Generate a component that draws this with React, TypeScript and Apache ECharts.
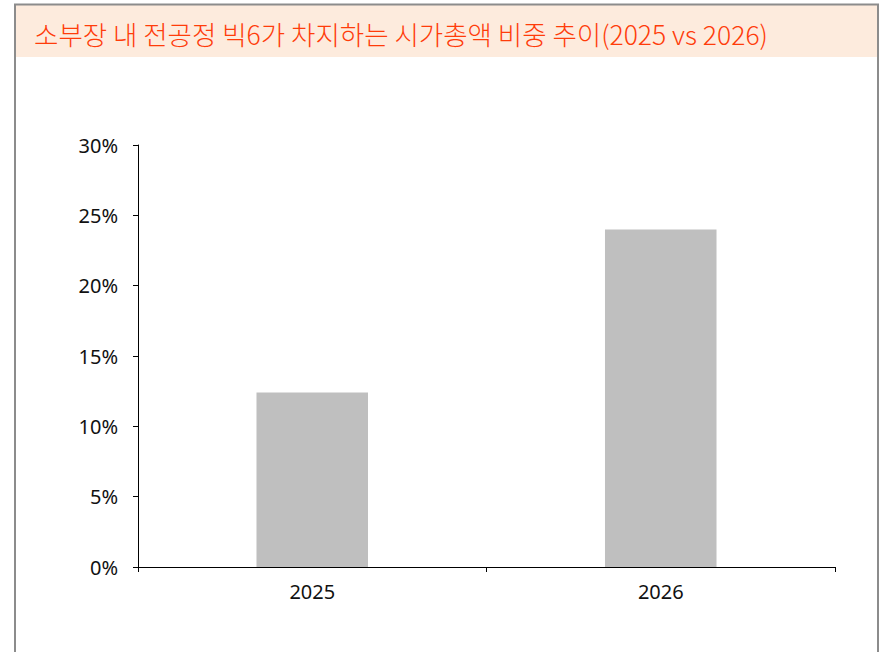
import React, { useEffect, useRef } from "react";
import * as echarts from "echarts";

const titleText = "소부장 내 전공정 빅6가 차지하는 시가총액 비중 추이(2025 vs 2026)";
const categories = ["2025", "2026"];
const shareValues = [12.4, 24.0];
const yTicks = [0, 5, 10, 15, 20, 25, 30];

export default function App() {
  const ref = useRef<HTMLDivElement>(null);
  useEffect(() => {
    document.body.style.margin = "0";
    const chart = echarts.init(ref.current!, null, { renderer: "svg" });
    const titleFont = "'Noto Sans CJK KR', 'Noto Sans', sans-serif";
    const axisFont = "'Noto Sans', sans-serif";
    chart.setOption({
      animation: false,
      backgroundColor: "#ffffff",
      grid: { left: 138, right: 45, top: 145, bottom: 85, containLabel: false },
      xAxis: {
        type: "category",
        data: categories,
        axisLine: { lineStyle: { color: "#000", width: 1 } },
        axisTick: { show: true, length: 5, alignWithLabel: false, lineStyle: { color: "#000" } },
        axisLabel: { color: "#111", fontSize: 20, fontFamily: axisFont, margin: 14 },
      },
      yAxis: {
        type: "value",
        min: yTicks[0],
        max: yTicks[yTicks.length - 1],
        interval: 5,
        axisLine: { show: true, lineStyle: { color: "#000", width: 1 } },
        axisTick: { show: true, length: 5, lineStyle: { color: "#000" } },
        splitLine: { show: false },
        axisLabel: { color: "#111", fontSize: 20, fontFamily: axisFont, margin: 20, formatter: "{value}%" },
      },
      series: [
        {
          type: "bar",
          data: shareValues,
          barWidth: "32%",
          itemStyle: { color: "#BFBFBF" },
        },
      ],
      graphic: [
        {
          type: "rect",
          shape: { x: 15, y: 5, width: 863, height: 52 },
          style: { fill: "#FDEBDD" },
          silent: true,
        },
        {
          type: "rect",
          shape: { x: 15, y: 4.5, width: 863, height: 700 },
          style: { fill: "none", stroke: "#8C8C8C", lineWidth: 2 },
          silent: true,
        },
        {
          type: "text",
          x: 34,
          y: 33,
          style: {
            text: titleText,
            fill: "#FF3C0A",
            fontSize: 26.5,
            fontWeight: 300,
            fontFamily: titleFont,
            verticalAlign: "middle",
            align: "left",
          },
          silent: true,
        },
      ],
    });
    return () => chart.dispose();
  }, []);
  return <div ref={ref} style={{ position: "fixed", left: 0, top: 0, width: 880, height: 652 }} />;
}
